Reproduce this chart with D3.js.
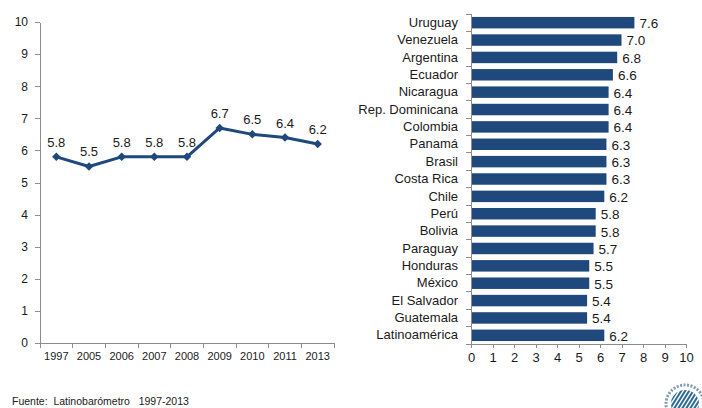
<!DOCTYPE html>
<html lang="es">
<head>
  <meta charset="UTF-8">
  <title>Latinobarómetro 1997-2013</title>
  <script src="https://d3js.org/d3.v7.min.js"></script>
  <style>
    body {
      margin: 0;
      background: #fff;
      font-family: "Liberation Sans", Arial, sans-serif;
    }
    .axis path,
    .axis line {
      stroke: #8c8c8c;
      shape-rendering: crispEdges;
    }
    .axis text {
      fill: #1a1a1a;
    }
  </style>
</head>
<body>
  <svg id="chart" width="702" height="408"></svg>

  <script>
    // Serie anual (Latinoamérica)
    const years = ["1997", "2005", "2006", "2007", "2008", "2009", "2010", "2011", "2013"];
    const yearValues = [5.8, 5.5, 5.8, 5.8, 5.8, 6.7, 6.5, 6.4, 6.2];

    // Países 2013
    const countries = ["Uruguay", "Venezuela", "Argentina", "Ecuador", "Nicaragua", "Rep. Dominicana",
      "Colombia", "Panamá", "Brasil", "Costa Rica", "Chile", "Perú", "Bolivia", "Paraguay",
      "Honduras", "México", "El Salvador", "Guatemala", "Latinoamérica"];
    const countryValues = [7.6, 7.0, 6.8, 6.6, 6.4, 6.4, 6.4, 6.3, 6.3, 6.3, 6.2, 5.8, 5.8, 5.7,
      5.5, 5.5, 5.4, 5.4, 6.2];

    const scoreTicks = [0, 1, 2, 3, 4, 5, 6, 7, 8, 9, 10];
    const source = "Fuente:  Latinobarómetro   1997-2013";

    const blue = "#1f487c";
    const svg = d3.select("#chart");

    // ---------- gráfico de líneas (izquierda) ----------
    const lx = d3.scaleBand().domain(years).range([40, 334]);
    const ly = d3.scaleLinear().domain([0, 10]).range([343, 22]);

    svg.append("g")
      .attr("class", "axis")
      .attr("transform", "translate(40,0)")
      .call(d3.axisLeft(ly).tickValues(scoreTicks).tickSize(5).tickSizeOuter(0).tickPadding(7))
      .call(g => g.selectAll("text").attr("font-size", 12));

    // ticks en los límites de cada banda
    const lxAxis = svg.append("g")
      .attr("class", "axis")
      .attr("transform", "translate(0,343)");
    lxAxis.call(d3.axisBottom(lx).tickSize(0).tickPadding(9))
      .call(g => g.selectAll("text").attr("font-size", 11))
      .call(g => g.select(".domain").remove());
    lxAxis.append("line").attr("x1", 40).attr("x2", 334);
    lxAxis.selectAll(".bt")
      .data(years.concat(["end"]))
      .enter().append("line")
      .attr("class", "bt")
      .attr("x1", (d, i) => i < years.length ? lx(d) : lx.range()[1])
      .attr("x2", (d, i) => i < years.length ? lx(d) : lx.range()[1])
      .attr("y1", 0).attr("y2", 5);

    const pts = years.map((y, i) => [y, yearValues[i]]);
    const line = d3.line()
      .x(d => lx(d[0]) + lx.bandwidth() / 2)
      .y(d => ly(d[1]));

    svg.append("path")
      .datum(pts)
      .attr("d", line)
      .attr("fill", "none")
      .attr("stroke", blue)
      .attr("stroke-width", 3)
      .attr("stroke-linejoin", "round");

    svg.selectAll(".mk")
      .data(pts)
      .enter().append("path")
      .attr("class", "mk")
      .attr("d", d3.symbol().type(d3.symbolSquare).size(36))
      .attr("transform", d => `translate(${lx(d[0]) + lx.bandwidth() / 2},${ly(d[1])}) rotate(45)`)
      .attr("fill", blue);

    svg.selectAll(".pl")
      .data(pts)
      .enter().append("text")
      .attr("class", "pl")
      .attr("x", d => lx(d[0]) + lx.bandwidth() / 2)
      .attr("y", d => ly(d[1]) - 10)
      .attr("text-anchor", "middle")
      .attr("font-size", 13)
      .attr("fill", "#1a1a1a")
      .text(d => d[1].toFixed(1));

    // ---------- gráfico de barras (derecha) ----------
    const bx = d3.scaleLinear().domain([0, 10]).range([471, 686]);
    const by = d3.scaleBand().domain(countries).range([14, 344]).paddingInner(0.34).paddingOuter(0.17);

    svg.selectAll(".bar")
      .data(countries)
      .enter().append("rect")
      .attr("class", "bar")
      .attr("x", bx(0))
      .attr("y", d => by(d))
      .attr("width", (d, i) => bx(countryValues[i]) - bx(0))
      .attr("height", by.bandwidth())
      .attr("fill", blue);

    svg.selectAll(".bl")
      .data(countries)
      .enter().append("text")
      .attr("class", "bl")
      .attr("x", (d, i) => bx(countryValues[i]) + 5)
      .attr("y", d => by(d) + by.bandwidth() / 2)
      .attr("dy", "0.4em")
      .attr("font-size", 13.5)
      .attr("fill", "#1a1a1a")
      .text((d, i) => countryValues[i].toFixed(1));

    const byAxis = svg.append("g")
      .attr("class", "axis")
      .attr("transform", `translate(${bx(0)},0)`);
    byAxis.call(d3.axisLeft(by).tickSize(0).tickPadding(13))
      .call(g => g.selectAll("text").attr("font-size", 13))
      .call(g => g.select(".domain").remove());
    byAxis.append("line").attr("y1", 14).attr("y2", 344);
    byAxis.selectAll(".bt")
      .data(d3.range(countries.length + 1))
      .enter().append("line")
      .attr("class", "bt")
      .attr("x1", -5).attr("x2", 0)
      .attr("y1", i => 14 + i * by.step())
      .attr("y2", i => 14 + i * by.step());

    svg.append("g")
      .attr("class", "axis")
      .attr("transform", "translate(0,344)")
      .call(d3.axisBottom(bx).tickValues(scoreTicks).tickSize(4).tickSizeOuter(0).tickPadding(5))
      .call(g => g.selectAll("text").attr("font-size", 13));

    // ---------- fuente ----------
    svg.append("text")
      .attr("x", 12)
      .attr("y", 405)
      .attr("font-size", 10.5)
      .attr("fill", "#1a1a1a")
      .style("white-space", "pre")
      .text(source);

    // logotipo (aproximado)
    const defs = svg.append("defs");
    defs.append("clipPath").attr("id", "logoClip")
      .append("circle").attr("cx", 0).attr("cy", 0).attr("r", 14);
    const logo = svg.append("g").attr("transform", "translate(685,404)");
    logo.append("circle").attr("r", 19).attr("fill", "none")
      .attr("stroke", "#7f9bb8").attr("stroke-width", 3).attr("stroke-dasharray", "2 1.5");
    logo.append("g").attr("clip-path", "url(#logoClip)")
      .selectAll("line")
      .data(d3.range(-24, 26, 4))
      .enter().append("line")
      .attr("x1", d => d - 10).attr("y1", 16)
      .attr("x2", d => d + 10).attr("y2", -16)
      .attr("stroke", "#2f6c95")
      .attr("stroke-width", 2);
  </script>
</body>
</html>
